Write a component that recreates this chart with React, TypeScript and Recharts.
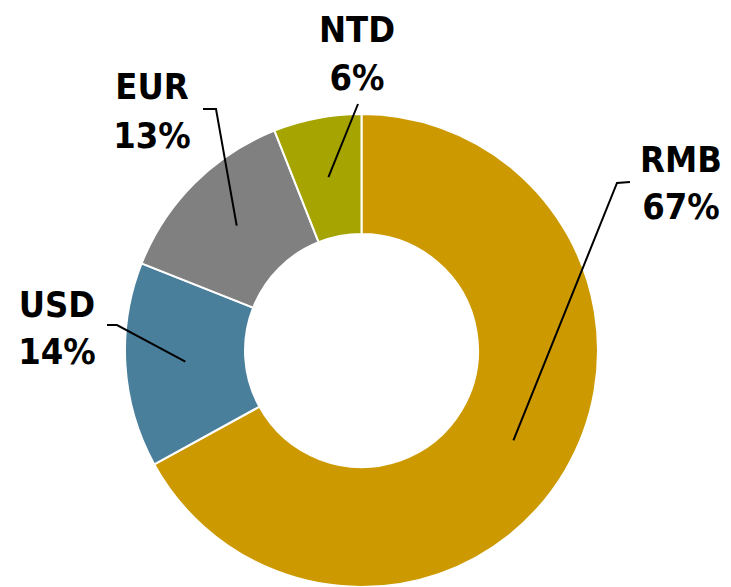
import React from "react";
import { PieChart, Pie, Cell } from "recharts";

const categories = ["RMB", "USD", "EUR", "NTD"];
const shares = [67, 14, 13, 6];
const colors = ["#CC9A00", "#4A7F9C", "#808080", "#A6A400"];

const data = categories.map((name, i) => ({ name, value: shares[i] }));

// label layout: offsets from pie centre for leader bend, leader end, text centre and baselines
const labelLayout = [
  { bx: 255.5, by: -167.5, ex: 268.5, ey: -168.5, tx: 319.5, t1: -178.5, t2: -131.5 },
  { bx: -244.5, by: -25.5, ex: -254.5, ey: -25.5, tx: -304.5, t1: -33.5, t2: 13.5 },
  { bx: -145.5, by: -241.5, ex: -158.5, ey: -241.5, tx: -209.5, t1: -251.5, t2: -202.5 },
  { bx: -3.5, by: -246.5, ex: -3.5, ey: -246.5, tx: -4.5, t1: -308.5, t2: -260.5 },
];

const RAD = Math.PI / 180;

const renderLabel = (props: any) => {
  const { cx, cy, midAngle, innerRadius, outerRadius, index, percent, name } = props;
  const r = (innerRadius + outerRadius) / 2;
  const sx = cx + r * Math.cos(-midAngle * RAD);
  const sy = cy + r * Math.sin(-midAngle * RAD);
  const L = labelLayout[index];
  const pts = `${sx},${sy} ${cx + L.bx},${cy + L.by} ${cx + L.ex},${cy + L.ey}`;
  return (
    <g key={`lbl-${index}`}>
      <polyline points={pts} fill="none" stroke="#000" strokeWidth={2} />
      <text
        textAnchor="middle"
        fontFamily="'DejaVu Sans Condensed', 'DejaVu Sans', sans-serif"
        fontStretch="condensed"
        fontWeight="bold"
        fontSize={36}
        fill="#000"
      >
        <tspan x={cx + L.tx} y={cy + L.t1}>{name}</tspan>
        <tspan x={cx + L.tx} y={cy + L.t2}>{`${Math.round(percent * 100)}%`}</tspan>
      </text>
    </g>
  );
};

export default function App() {
  return (
    <div style={{ position: "absolute", left: 0, top: 0, width: 731, height: 587, background: "#fff" }}>
      <PieChart width={731} height={587} margin={{ top: 0, right: 0, bottom: 0, left: 0 }}>
        <Pie
          data={data}
          dataKey="value"
          nameKey="name"
          cx={361.5}
          cy={350.5}
          innerRadius={116.5}
          outerRadius={236.5}
          startAngle={90}
          endAngle={-270}
          stroke="#ffffff"
          strokeWidth={2}
          label={renderLabel}
          labelLine={false}
          isAnimationActive={false}
        >
          {data.map((d, i) => (
            <Cell key={d.name} fill={colors[i]} />
          ))}
        </Pie>
      </PieChart>
    </div>
  );
}
